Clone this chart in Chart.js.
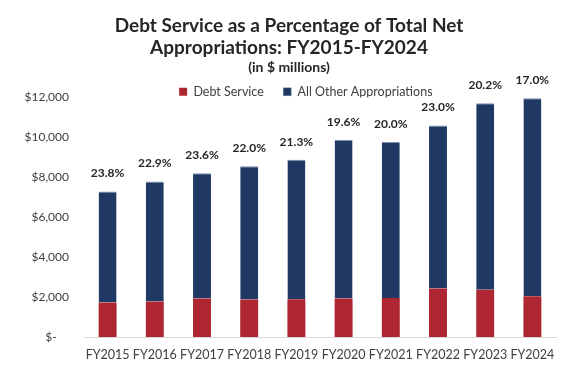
<!DOCTYPE html>
<html>
<head>
<meta charset="utf-8">
<script src="https://cdn.jsdelivr.net/npm/chart.js@4"></script>
<style>
  html, body { margin: 0; padding: 0; background: #ffffff; }
  #wrap { width: 570px; height: 373px; }
</style>
</head>
<body>
<div id="wrap"><canvas id="debtChart"></canvas></div>
<script>
// Fiscal years on the x axis
const years = ['FY2015', 'FY2016', 'FY2017', 'FY2018', 'FY2019', 'FY2020', 'FY2021', 'FY2022', 'FY2023', 'FY2024'];
// $ millions
const debtService = [1730, 1780, 1930, 1880, 1890, 1930, 1960, 2430, 2370, 2040];
const otherAppropriations = [5560, 6010, 6280, 6670, 6990, 7940, 7810, 8170, 9340, 9920];
// Labels shown above each bar
const debtShare = ['23.8%', '22.9%', '23.6%', '22.0%', '21.3%', '19.6%', '20.0%', '23.0%', '20.2%', '17.0%'];

const FONT = "Lato, 'Open Sans', sans-serif";

// Percentage labels above the stacked bars
const shareLabels = {
    id: 'shareLabels',
    afterDatasetsDraw(chart) {
        const meta = chart.getDatasetMeta(1);
        const ctx = chart.ctx;
        ctx.save();
        ctx.font = 'bold 12px ' + FONT;
        ctx.fillStyle = '#262626';
        ctx.textAlign = 'center';
        ctx.textBaseline = 'middle';
        meta.data.forEach((bar, i) => {
            ctx.fillText(debtShare[i], bar.x, bar.y - 18);
        });
        ctx.restore();
    }
};

new Chart(document.getElementById('debtChart'), {
    type: 'bar',
    data: {
        labels: years,
        datasets: [
            {
                label: 'Debt Service',
                data: debtService,
                backgroundColor: '#ad2631'
            },
            {
                label: 'All Other Appropriations',
                data: otherAppropriations,
                backgroundColor: '#1f3864',
                borderColor: '#7f8fae',
                borderWidth: { top: 1, left: 0, right: 0, bottom: 0 }
            }
        ]
    },
    options: {
        responsive: true,
        maintainAspectRatio: false,
        animation: false,
        layout: { padding: { left: 8, right: 0, top: 11, bottom: 1 } },
        datasets: {
            bar: { barPercentage: 0.5, categoryPercentage: 0.76 }
        },
        plugins: {
            title: {
                display: true,
                text: ['Debt Service as a Percentage of Total Net', 'Appropriations: FY2015-FY2024'],
                color: '#262626',
                font: { family: FONT, size: 19, weight: 'bold', lineHeight: 1.15 },
                padding: { top: 4, bottom: 0 }
            },
            subtitle: {
                display: true,
                text: '(in $ millions)',
                color: '#262626',
                font: { family: FONT, size: 14, weight: 'bold', lineHeight: 1.2 },
                padding: { top: 0, bottom: 0 }
            },
            legend: {
                position: 'top',
                maxHeight: 22,
                labels: {
                    boxWidth: 8,
                    boxHeight: 8,
                    color: '#404040',
                    font: { family: FONT, size: 12.5 },
                    padding: 10,
                    // wider gap after the first item, and a blank slot
                    // in front so the legend sits right of centre
                    generateLabels(chart) {
                        const items = Chart.defaults.plugins.legend.labels.generateLabels(chart);
                        items[0].text += '\u2002 ';
                        items.unshift({
                            text: '\u2002 ',
                            fillStyle: 'rgba(0,0,0,0)',
                            strokeStyle: 'rgba(0,0,0,0)',
                            lineWidth: 0,
                            hidden: false,
                            datasetIndex: -1
                        });
                        return items;
                    }
                }
            },
            tooltip: { enabled: false }
        },
        scales: {
            x: {
                stacked: true,
                grid: { display: false, drawTicks: false },
                border: { color: '#d9d9d9' },
                ticks: {
                    color: '#404040',
                    font: { family: FONT, size: 12.5 },
                    padding: 10,
                    maxRotation: 0,
                    autoSkip: false
                }
            },
            y: {
                stacked: true,
                min: 0,
                max: 12000,
                grid: { display: false, drawTicks: false },
                border: { display: false },
                afterFit(scale) { scale.width = 76; },
                ticks: {
                    stepSize: 2000,
                    color: '#404040',
                    font: { family: FONT, size: 12 },
                    padding: 15,
                    callback: (v) => v === 0 ? '$-    ' : '$' + v.toLocaleString('en-US')
                }
            },
            // empty right-hand axis that only reserves the margin
            spare: {
                type: 'linear',
                position: 'right',
                min: 0,
                max: 1,
                grid: { display: false, drawTicks: false },
                border: { display: false },
                ticks: { display: false },
                afterFit(scale) { scale.width = 14; }
            }
        }
    },
    plugins: [shareLabels]
});
</script>
</body>
</html>
